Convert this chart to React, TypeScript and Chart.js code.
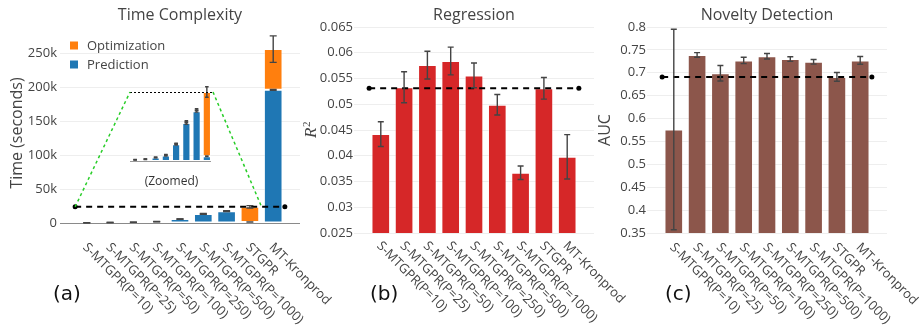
import React, { useEffect, useRef } from "react";
import { Chart, registerables } from "chart.js";
Chart.register(...registerables);

// ---------------- data ----------------
const categories = [
  "S-MTGPR(P=10)",
  "S-MTGPR(P=25)",
  "S-MTGPR(P=50)",
  "S-MTGPR(P=100)",
  "S-MTGPR(P=250)",
  "S-MTGPR(P=500)",
  "S-MTGPR(P=1000)",
  "STGPR",
  "MT-Kronprod",
];
const seriesNames = ["Prediction", "Optimization"];
const predictionTime = [400, 600, 1200, 1900, 5800, 13100, 17200, 1600, 196000];
const predictionErr = [50, 80, 100, 150, 300, 400, 350, 100, 600];
const optimizationTime = [50, 50, 50, 250, 50, 500, 500, 22200, 60000];
const optimizationErr = [50, 50, 50, 100, 100, 300, 300, 1800, 19500];
const timeTicks = [0, 50000, 100000, 150000, 200000, 250000];
const r2Values = [0.0442, 0.0533, 0.0576, 0.0584, 0.0556, 0.0499, 0.0367, 0.0531, 0.0398];
const r2Err = [0.0024, 0.003, 0.0027, 0.0027, 0.0024, 0.002, 0.0013, 0.0021, 0.0043];
const aucValues = [0.576, 0.739, 0.699, 0.727, 0.736, 0.73, 0.724, 0.691, 0.727];
const aucErr = [0.219, 0.005, 0.017, 0.007, 0.006, 0.005, 0.005, 0.0095, 0.0085];
const titles = ["Time Complexity", "Regression", "Novelty Detection"];
const yTitles = ["Time (seconds)", "R", "AUC"];
const panelLabels = ["(a)", "(b)", "(c)"];
const zoomLabel = "(Zoomed)";
const BASELINE_INDEX = 7; // STGPR
const ZOOM_COUNT = 8;

// ---------------- styles / layout ----------------
const W = 921;
const H = 329;
const FONT = "'Open Sans', sans-serif";
const TEXT = "#444";
const BLUE = "#1f77b4";
const ORANGE = "#ff7f0e";
const RED = "#d62728";
const BROWN = "#8c564b";
const GRID = "#eeeeee";
const PANEL_A = { left: 60, right: 300, top: 43, bottom: 223, axisStart: 0 };
const PANEL_B = { left: 354, right: 594, top: 27, bottom: 233, axisStart: 300 };
const PANEL_C = { left: 647, right: 887, top: 27, bottom: 233, axisStart: 600 };
const INSET = { left: 130, right: 213, top: 92, bottom: 161, axisStart: 130 };

type Box = { left: number; right: number; top: number; bottom: number; axisStart: number };
const pad = (b: Box) => ({ left: b.axisStart, right: W - b.right, top: b.top, bottom: H - b.bottom });

const totals = predictionTime.map((p, i) => p + optimizationTime[i]);

type ErrSpec = { tops: number[]; errs: number[]; cap: number };
function errorBarPlugin(specs: ErrSpec[]) {
  return {
    id: "errbars",
    afterDatasetsDraw(chart: any) {
      const { ctx } = chart;
      const xs = chart.scales.x;
      const ys = chart.scales.y;
      ctx.save();
      ctx.strokeStyle = "#444";
      ctx.lineWidth = 1.4;
      specs.forEach((s) =>
        s.tops.forEach((t, i) => {
          const x = xs.getPixelForValue(i);
          const y1 = ys.getPixelForValue(t + s.errs[i]);
          const y2 = ys.getPixelForValue(t - s.errs[i]);
          ctx.beginPath();
          ctx.moveTo(x, y1);
          ctx.lineTo(x, y2);
          ctx.moveTo(x - s.cap, y1);
          ctx.lineTo(x + s.cap, y1);
          ctx.moveTo(x - s.cap, y2);
          ctx.lineTo(x + s.cap, y2);
          ctx.stroke();
        })
      );
      ctx.restore();
    },
  };
}

type DecorOpts = {
  title: string;
  yTitle: string;
  yTitleX: number;
  labelsY: number;
  panelLabel: string;
  panelLabelX: number;
  legend?: boolean;
  r2?: boolean;
};
function decorPlugin(o: DecorOpts) {
  return {
    id: "decor",
    afterDraw(chart: any) {
      const { ctx, chartArea: ca } = chart;
      const xs = chart.scales.x;
      ctx.save();
      ctx.fillStyle = TEXT;
      // title
      ctx.font = `16px ${FONT}`;
      ctx.textAlign = "center";
      ctx.textBaseline = "middle";
      ctx.fillText(o.title, (ca.left + ca.right) / 2, 15.5);
      // y title
      const cy = (ca.top + ca.bottom) / 2;
      if (o.r2) {
        ctx.save();
        ctx.translate(o.yTitleX, cy);
        ctx.rotate(-Math.PI / 2);
        ctx.textAlign = "left";
        ctx.textBaseline = "alphabetic";
        ctx.font = `italic 17px 'Liberation Serif', 'DejaVu Serif', serif`;
        const rw = ctx.measureText(o.yTitle).width;
        ctx.font = `11px 'Liberation Serif', 'DejaVu Serif', serif`;
        const sw = ctx.measureText("2").width;
        const start = -(rw + sw) / 2;
        ctx.font = `italic 17px 'Liberation Serif', 'DejaVu Serif', serif`;
        ctx.fillText(o.yTitle, start, 0);
        ctx.font = `11px 'Liberation Serif', 'DejaVu Serif', serif`;
        ctx.fillText("2", start + rw + 0.5, -5.5);
        ctx.restore();
      } else {
        ctx.save();
        ctx.translate(o.yTitleX, cy);
        ctx.rotate(-Math.PI / 2);
        ctx.font = `16px ${FONT}`;
        ctx.textAlign = "center";
        ctx.textBaseline = "middle";
        ctx.fillText(o.yTitle, 0, 0);
        ctx.restore();
      }
      // x labels
      ctx.font = `13px ${FONT}`;
      ctx.textAlign = "left";
      ctx.textBaseline = "middle";
      categories.forEach((lab, i) => {
        const px = xs.getPixelForValue(i);
        ctx.save();
        ctx.translate(px - 2, o.labelsY);
        ctx.rotate(Math.PI / 4);
        ctx.fillText(lab, 0, 0);
        ctx.restore();
      });
      // panel label
      ctx.fillStyle = "#111";
      ctx.font = `20px 'DejaVu Sans', sans-serif`;
      ctx.textAlign = "left";
      ctx.textBaseline = "alphabetic";
      ctx.fillText(o.panelLabel, o.panelLabelX, 300);
      // legend
      if (o.legend) {
        const items = [
          { name: chart.data.datasets[2].label, color: chart.data.datasets[2].backgroundColor },
          { name: chart.data.datasets[1].label, color: chart.data.datasets[1].backgroundColor },
        ];
        ctx.font = `13px ${FONT}`;
        ctx.textBaseline = "middle";
        items.forEach((it, k) => {
          const yc = ca.top + 2.5 + k * 19;
          ctx.fillStyle = it.color;
          ctx.fillRect(ca.left + 10, yc - 4, 8, 8);
          ctx.fillStyle = TEXT;
          ctx.fillText(it.name, ca.left + 27, yc + 1);
        });
      }
      ctx.restore();
    },
  };
}

const xAxis = (min: number, max: number, stacked = false) => ({
  type: "linear" as const,
  min,
  max,
  offset: false,
  display: false,
  stacked,
  ticks: { stepSize: 1, includeBounds: false },
});

const baselineLine = (value: number, from: number, to: number) => ({
  type: "line" as const,
  label: "baseline",
  data: [
    { x: from, y: value },
    { x: to, y: value },
  ],
  borderColor: "#000",
  borderWidth: 2,
  borderDash: [6, 5],
  pointRadius: 2.5,
  pointBackgroundColor: "#000",
  pointBorderWidth: 0,
  fill: false,
  order: -1,
  stack: "baseline",
});

const barStyle = {
  borderColor: "rgba(255,255,255,0.35)",
  borderWidth: 1,
  borderSkipped: false as const,
  barPercentage: 0.8,
  categoryPercentage: 1,
};

const yTickCommon = {
  font: { size: 13, family: FONT },
  color: TEXT,
  padding: 3,
  includeBounds: false,
};

const baseOptions = (box: Box) => ({
  responsive: false,
  animation: false as const,
  devicePixelRatio: 1,
  events: [] as any[],
  layout: { padding: pad(box) },
  plugins: { legend: { display: false }, tooltip: { enabled: false }, title: { display: false } },
});

const fixWidth = (box: Box) => (s: any) => {
  s.width = box.left - box.axisStart;
};

export default function App() {
  const refA = useRef<HTMLCanvasElement>(null);
  const refInset = useRef<HTMLCanvasElement>(null);
  const refB = useRef<HTMLCanvasElement>(null);
  const refC = useRef<HTMLCanvasElement>(null);

  useEffect(() => {
    const charts: Chart[] = [];
    const pts = (vals: number[]) => vals.map((v, i) => ({ x: i, y: v }));

    // ---- (a) Time complexity ----
    const chartA = new Chart(refA.current!, {
      type: "bar",
      data: {
        datasets: [
          baselineLine(totals[BASELINE_INDEX], -0.5, 8.5) as any,
          { label: seriesNames[0], data: pts(predictionTime), backgroundColor: BLUE, ...barStyle },
          { label: seriesNames[1], data: pts(optimizationTime), backgroundColor: ORANGE, ...barStyle },
        ],
      },
      options: {
        ...baseOptions(PANEL_A),
        scales: {
          x: xAxis(-1.15, 9.15, true),
          y: {
            type: "linear",
            min: 0,
            max: 265000,
            stacked: true,
            afterBuildTicks: (s: any) => {
              s.ticks = timeTicks.map((v) => ({ value: v }));
            },
            ticks: {
              ...yTickCommon,
              callback: (v: any) => (Number(v) === 0 ? "0" : Number(v) / 1000 + "k"),
            },
            grid: {
              color: (c: any) => (c.tick && c.tick.value === 0 ? "#8a8a8a" : GRID),
              drawTicks: false,
            },
            border: { display: false },
            afterFit: fixWidth(PANEL_A),
          },
        },
      } as any,
      plugins: [
        errorBarPlugin([
          { tops: predictionTime, errs: predictionErr, cap: 3.5 },
          { tops: totals, errs: optimizationErr, cap: 3.5 },
        ]),
        decorPlugin({
          title: titles[0],
          yTitle: yTitles[0],
          yTitleX: 17.5,
          labelsY: 245.5,
          panelLabel: panelLabels[0],
          panelLabelX: 53,
          legend: true,
        }),
      ],
    });
    charts.push(chartA);

    // ---- inset (zoomed) ----
    const zCats = categories.slice(0, ZOOM_COUNT);
    const zPred = predictionTime.slice(0, ZOOM_COUNT);
    const zOpt = optimizationTime.slice(0, ZOOM_COUNT);
    const zTot = totals.slice(0, ZOOM_COUNT);
    const insetPlugin = {
      id: "insetDecor",
      beforeDatasetsDraw(chart: any) {
        const { ctx, chartArea: ca } = chart;
        const y0 = chart.scales.y.getPixelForValue(0);
        ctx.save();
        ctx.strokeStyle = "#9a9a9a";
        ctx.lineWidth = 1;
        ctx.beginPath();
        ctx.moveTo(ca.left, y0 + 0.5);
        ctx.lineTo(ca.right - 2, y0 + 0.5);
        ctx.stroke();
        ctx.restore();
      },
      afterDraw(chart: any) {
        const { ctx, chartArea: ca } = chart;
        const mx = chartA.scales.x;
        const my = chartA.scales.y;
        const zoomTop = zTot[BASELINE_INDEX];
        ctx.save();
        // dotted top border of the zoom window
        ctx.strokeStyle = "#000";
        ctx.lineWidth = 1;
        ctx.setLineDash([2, 2]);
        ctx.beginPath();
        ctx.moveTo(ca.left, ca.top + 0.5);
        ctx.lineTo(ca.right, ca.top + 0.5);
        ctx.stroke();
        // green connectors
        ctx.strokeStyle = "rgb(40,205,40)";
        ctx.lineWidth = 1.5;
        ctx.setLineDash([3, 3]);
        ctx.beginPath();
        ctx.moveTo(mx.getPixelForValue(-0.5), my.getPixelForValue(zoomTop));
        ctx.lineTo(ca.left, ca.top);
        ctx.moveTo(ca.right, ca.top);
        ctx.lineTo(mx.getPixelForValue(ZOOM_COUNT - 0.5), my.getPixelForValue(zoomTop));
        ctx.stroke();
        ctx.setLineDash([]);
        ctx.fillStyle = "#333";
        ctx.font = `12px ${FONT}`;
        ctx.textAlign = "center";
        ctx.textBaseline = "middle";
        ctx.fillText(zoomLabel, (ca.left + ca.right) / 2, ca.bottom + 20.6);
        ctx.restore();
      },
    };
    const chartInset = new Chart(refInset.current!, {
      type: "bar",
      data: {
        labels: zCats,
        datasets: [
          { label: seriesNames[0], data: pts(zPred), backgroundColor: BLUE, ...barStyle },
          { label: seriesNames[1], data: pts(zOpt), backgroundColor: ORANGE, ...barStyle },
        ],
      },
      options: {
        ...baseOptions(INSET),
        scales: {
          x: xAxis(-0.5, 7.6, true),
          y: { type: "linear", min: 0, max: zTot[BASELINE_INDEX], stacked: true, display: false },
        },
      } as any,
      plugins: [
        insetPlugin,
        errorBarPlugin([
          { tops: zPred, errs: predictionErr.slice(0, ZOOM_COUNT), cap: 1.8 },
          { tops: zTot, errs: optimizationErr.slice(0, ZOOM_COUNT), cap: 1.8 },
        ]),
      ],
    });
    charts.push(chartInset);

    // ---- (b) Regression ----
    const chartB = new Chart(refB.current!, {
      type: "bar",
      data: {
        datasets: [
          baselineLine(r2Values[BASELINE_INDEX], -0.5, 8.5) as any,
          { label: "R2", data: pts(r2Values), backgroundColor: RED, ...barStyle },
        ],
      },
      options: {
        ...baseOptions(PANEL_B),
        scales: {
          x: xAxis(-1.15, 9.15),
          y: {
            type: "linear",
            min: 0.025,
            max: 0.065,
            ticks: {
              ...yTickCommon,
              padding: 1,
              stepSize: 0.005,
              callback: (v: any) => String(parseFloat(Number(v).toFixed(3))),
            },
            grid: { color: GRID, drawTicks: false },
            border: { display: false },
            afterFit: fixWidth(PANEL_B),
          },
        },
      } as any,
      plugins: [
        errorBarPlugin([{ tops: r2Values, errs: r2Err, cap: 3 }]),
        decorPlugin({
          title: titles[1],
          yTitle: yTitles[1],
          yTitleX: 315.5,
          labelsY: 244,
          panelLabel: panelLabels[1],
          panelLabelX: 370,
          r2: true,
        }),
      ],
    });
    charts.push(chartB);

    // ---- (c) Novelty detection ----
    const chartC = new Chart(refC.current!, {
      type: "bar",
      data: {
        datasets: [
          baselineLine(aucValues[BASELINE_INDEX], -0.5, 8.5) as any,
          { label: "AUC", data: pts(aucValues), backgroundColor: BROWN, ...barStyle },
        ],
      },
      options: {
        ...baseOptions(PANEL_C),
        scales: {
          x: xAxis(-1.15, 9.15),
          y: {
            type: "linear",
            min: 0.35,
            max: 0.8,
            ticks: {
              ...yTickCommon,
              padding: 1,
              stepSize: 0.05,
              callback: (v: any) => String(parseFloat(Number(v).toFixed(2))),
            },
            grid: { color: GRID, drawTicks: false },
            border: { display: false },
            afterFit: fixWidth(PANEL_C),
          },
        },
      } as any,
      plugins: [
        errorBarPlugin([{ tops: aucValues, errs: aucErr, cap: 3 }]),
        decorPlugin({
          title: titles[2],
          yTitle: yTitles[2],
          yTitleX: 605.5,
          labelsY: 245.5,
          panelLabel: panelLabels[2],
          panelLabelX: 665,
        }),
      ],
    });
    charts.push(chartC);

    return () => charts.forEach((c) => c.destroy());
  }, []);

  const cstyle: React.CSSProperties = { position: "absolute", left: 0, top: 0, width: W, height: H };
  return (
    <div style={{ position: "absolute", left: 0, top: 0, width: W, height: H, background: "#fff", overflow: "hidden" }}>
      <canvas ref={refA} width={W} height={H} style={cstyle} />
      <canvas ref={refB} width={W} height={H} style={cstyle} />
      <canvas ref={refC} width={W} height={H} style={cstyle} />
      <canvas ref={refInset} width={W} height={H} style={cstyle} />
    </div>
  );
}
